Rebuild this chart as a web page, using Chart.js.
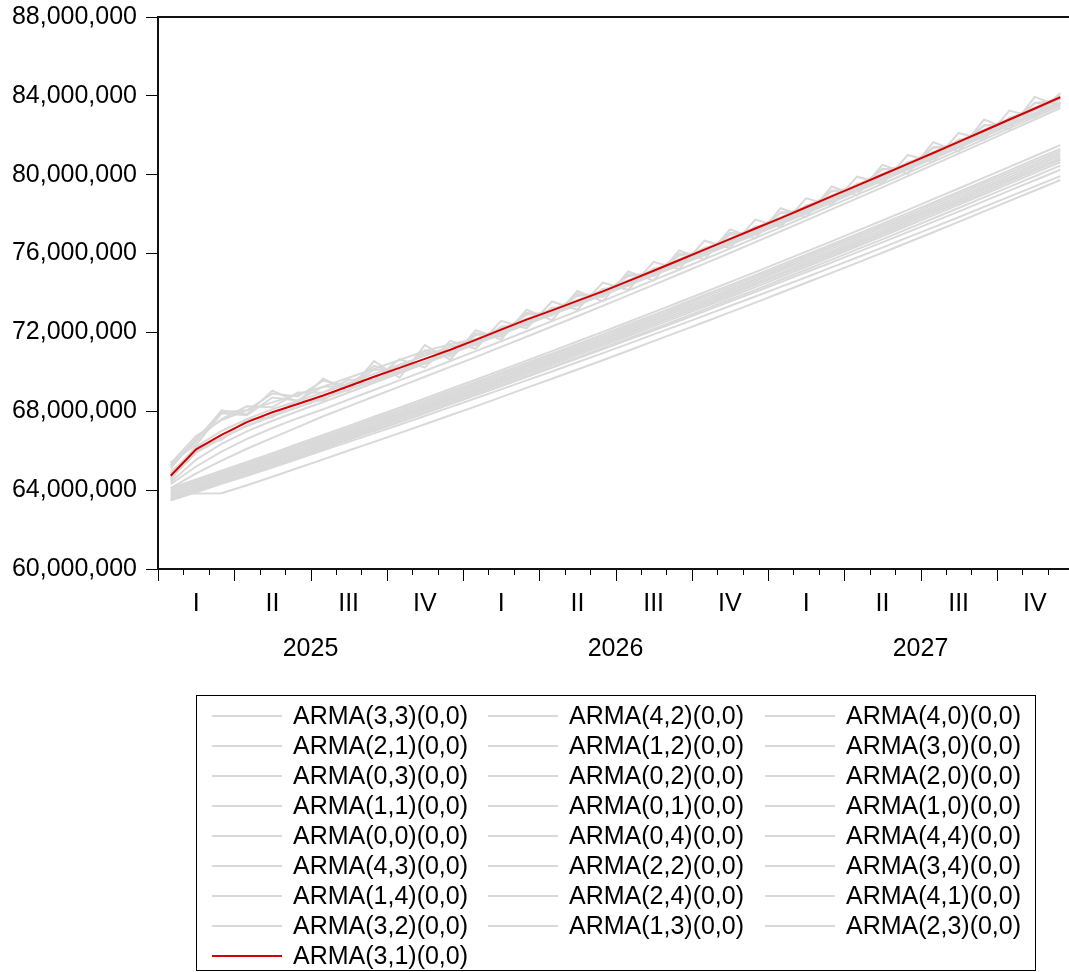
<!DOCTYPE html>
<html>
<head>
<meta charset="utf-8">
<title>ARMA forecasts 2025-2027</title>
<script src="https://cdn.jsdelivr.net/npm/chart.js@4.4.1/dist/chart.umd.min.js"></script>
<style>
  html, body { margin: 0; padding: 0; background: #fff; overflow: hidden; }
  #wrap { width: 1069px; height: 972px; overflow: hidden; }
  canvas { display: block; }
</style>
</head>
<body>
<div id="wrap"><canvas id="chart" width="1080" height="972"></canvas></div>
<script>
// Monthly forecast horizon
const monthLabels = [
  '2025M01','2025M02','2025M03','2025M04','2025M05','2025M06','2025M07','2025M08','2025M09','2025M10','2025M11','2025M12',
  '2026M01','2026M02','2026M03','2026M04','2026M05','2026M06','2026M07','2026M08','2026M09','2026M10','2026M11','2026M12',
  '2027M01','2027M02','2027M03','2027M04','2027M05','2027M06','2027M07','2027M08','2027M09','2027M10','2027M11','2027M12'
];
const quarterLabels = ['I', 'II', 'III', 'IV'];
const yearLabels = ['2025', '2026', '2027'];
const yTickValues = [60, 64, 68, 72, 76, 80, 84, 88]; // millions

// Forecast paths, in millions
const arma33 = [65.28, 66.47, 68.05, 67.85, 69.05, 68.47, 69.65, 69.02, 70.55, 69.70, 71.36, 70.62, 72.12, 71.64, 73.15, 72.62, 74.10, 73.58, 75.10, 74.63, 76.16, 75.70, 77.23, 76.77, 78.30, 77.85, 79.40, 78.95, 80.50, 80.05, 81.65, 81.17, 82.80, 82.30, 83.95, 83.45];
const arma42 = [65.10, 66.60, 67.60, 68.25, 68.20, 68.95, 68.95, 69.60, 69.60, 70.65, 70.21, 71.57, 71.17, 72.59, 72.20, 73.57, 73.15, 74.53, 74.15, 75.58, 75.21, 76.65, 76.28, 77.72, 77.35, 78.80, 78.45, 79.90, 79.55, 81.00, 80.65, 82.12, 81.78, 83.25, 82.91, 84.15];
const arma40 = [65.40, 66.30, 67.90, 67.80, 68.70, 68.55, 69.25, 69.30, 70.10, 70.15, 70.95, 71.05, 71.85, 72.05, 72.90, 73.05, 73.85, 74.00, 74.85, 75.05, 75.90, 76.10, 76.95, 77.15, 78.05, 78.25, 79.15, 79.35, 80.25, 80.45, 81.35, 81.57, 82.48, 82.70, 83.61, 83.83];
const arma21 = [64.10, 64.54, 64.99, 65.43, 65.88, 66.34, 66.80, 67.26, 67.72, 68.18, 68.65, 69.13, 69.60, 70.08, 70.57, 71.05, 71.54, 72.03, 72.53, 73.03, 73.53, 74.04, 74.55, 75.06, 75.58, 76.10, 76.62, 77.15, 77.68, 78.22, 78.76, 79.30, 79.85, 80.40, 80.95, 81.50];
const arma12 = [64.02, 64.46, 64.90, 65.34, 65.79, 66.24, 66.70, 67.16, 67.62, 68.07, 68.54, 69.02, 69.48, 69.96, 70.45, 70.92, 71.41, 71.90, 72.40, 72.89, 73.39, 73.90, 74.40, 74.91, 75.43, 75.94, 76.46, 76.99, 77.52, 78.05, 78.59, 79.13, 79.67, 80.22, 80.77, 81.31];
const arma30 = [65.35, 66.75, 67.55, 68.05, 68.45, 68.85, 69.25, 69.70, 70.15, 70.60, 71.05, 71.40, 71.67, 72.19, 72.70, 73.17, 73.65, 74.13, 74.65, 75.18, 75.71, 76.25, 76.78, 77.32, 77.85, 78.40, 78.95, 79.50, 80.05, 80.60, 81.15, 81.72, 82.28, 82.85, 83.41, 83.98];
const arma03 = [63.94, 64.38, 64.82, 65.26, 65.70, 66.16, 66.62, 67.07, 67.53, 67.98, 68.45, 68.93, 69.39, 69.87, 70.35, 70.83, 71.32, 71.80, 72.30, 72.79, 73.29, 73.80, 74.30, 74.81, 75.32, 75.84, 76.36, 76.88, 77.41, 77.94, 78.48, 79.02, 79.56, 80.11, 80.65, 81.20];
const arma02 = [63.86, 64.29, 64.74, 65.17, 65.62, 66.07, 66.53, 66.98, 67.44, 67.89, 68.36, 68.83, 69.30, 69.77, 70.26, 70.73, 71.22, 71.70, 72.20, 72.69, 73.19, 73.69, 74.20, 74.70, 75.22, 75.73, 76.25, 76.77, 77.30, 77.83, 78.37, 78.90, 79.45, 79.99, 80.54, 81.08];
const arma20 = [63.78, 64.21, 64.66, 65.09, 65.54, 65.99, 66.44, 66.90, 67.35, 67.81, 68.27, 68.74, 69.21, 69.68, 70.17, 70.64, 71.12, 71.61, 72.10, 72.60, 73.09, 73.59, 74.10, 74.60, 75.12, 75.63, 76.14, 76.67, 77.19, 77.73, 78.26, 78.79, 79.34, 79.88, 80.43, 80.97];
const arma11 = [63.70, 64.13, 64.58, 65.01, 65.45, 65.90, 66.36, 66.81, 67.26, 67.72, 68.18, 68.65, 69.12, 69.59, 70.07, 70.54, 71.03, 71.51, 72.00, 72.50, 72.99, 73.49, 74.00, 74.50, 75.01, 75.52, 76.04, 76.56, 77.08, 77.62, 78.15, 78.68, 79.23, 79.77, 80.31, 80.85];
const arma01 = [63.63, 64.06, 64.50, 64.94, 65.38, 65.83, 66.28, 66.73, 67.19, 67.64, 68.10, 68.57, 69.03, 69.51, 69.99, 70.46, 70.94, 71.42, 71.92, 72.41, 72.90, 73.40, 73.90, 74.41, 74.92, 75.43, 75.94, 76.46, 76.99, 77.52, 78.05, 78.58, 79.12, 79.67, 80.21, 80.75];
const arma10 = [63.55, 63.98, 64.42, 64.85, 65.29, 65.74, 66.20, 66.65, 67.10, 67.55, 68.01, 68.48, 68.94, 69.41, 69.89, 70.36, 70.85, 71.33, 71.82, 72.31, 72.80, 73.30, 73.80, 74.30, 74.81, 75.32, 75.84, 76.36, 76.88, 77.41, 77.94, 78.47, 79.01, 79.55, 80.09, 80.63];
const arma00 = [63.85, 63.83, 63.84, 64.25, 64.68, 65.12, 65.56, 66.01, 66.45, 66.89, 67.34, 67.80, 68.25, 68.72, 69.19, 69.65, 70.12, 70.59, 71.07, 71.56, 72.04, 72.53, 73.02, 73.51, 74.01, 74.52, 75.02, 75.53, 76.04, 76.56, 77.08, 77.61, 78.14, 78.67, 79.20, 79.73];
const arma04 = [63.48, 63.91, 64.35, 64.77, 65.21, 65.66, 66.11, 66.56, 67.00, 67.45, 67.91, 68.38, 68.84, 69.30, 69.78, 70.25, 70.73, 71.21, 71.69, 72.18, 72.67, 73.17, 73.67, 74.16, 74.67, 75.18, 75.69, 76.21, 76.72, 77.25, 77.78, 78.31, 78.85, 79.38, 79.92, 80.46];
const arma44 = [64.95, 65.95, 66.65, 67.25, 67.75, 68.20, 68.65, 69.10, 69.56, 70.02, 70.48, 70.95, 71.43, 71.92, 72.41, 72.90, 73.39, 73.89, 74.39, 74.90, 75.41, 75.93, 76.45, 76.97, 77.50, 78.03, 78.59, 79.15, 79.70, 80.26, 80.82, 81.37, 81.93, 82.49, 83.04, 83.60];
const arma43 = [64.30, 65.20, 65.95, 66.60, 67.15, 67.65, 68.10, 68.60, 69.08, 69.57, 70.05, 70.55, 71.05, 71.55, 72.06, 72.57, 73.08, 73.60, 74.12, 74.65, 75.18, 75.71, 76.25, 76.79, 77.33, 77.88, 78.43, 78.98, 79.54, 80.10, 80.66, 81.22, 81.79, 82.36, 82.93, 83.50];
const arma22 = [65.20, 66.60, 67.95, 68.05, 68.90, 68.75, 69.55, 69.30, 70.30, 69.95, 71.10, 70.80, 71.95, 71.80, 73.00, 72.85, 73.95, 73.80, 74.95, 74.85, 76.00, 75.90, 77.05, 76.95, 78.10, 78.05, 79.20, 79.15, 80.30, 80.25, 81.40, 81.38, 82.52, 82.50, 83.65, 83.62];
const arma34 = [64.10, 64.85, 65.50, 66.10, 66.65, 67.20, 67.75, 68.25, 68.75, 69.25, 69.75, 70.25, 70.75, 71.27, 71.78, 72.30, 72.82, 73.35, 73.88, 74.41, 74.95, 75.49, 76.03, 76.58, 77.13, 77.68, 78.24, 78.80, 79.36, 79.93, 80.50, 81.07, 81.64, 82.22, 82.80, 83.38];
const arma14 = [63.55, 63.97, 64.40, 64.82, 65.25, 65.69, 66.13, 66.57, 67.01, 67.45, 67.90, 68.36, 68.81, 69.27, 69.74, 70.20, 70.67, 71.14, 71.62, 72.10, 72.58, 73.07, 73.56, 74.05, 74.55, 75.05, 75.55, 76.06, 76.57, 77.09, 77.61, 78.13, 78.66, 79.19, 79.72, 80.25];
const arma24 = [64.50, 66.20, 66.55, 67.60, 67.70, 68.55, 68.55, 69.45, 69.45, 70.35, 70.40, 71.30, 71.35, 72.30, 72.35, 73.25, 73.35, 74.20, 74.35, 75.25, 75.40, 76.30, 76.45, 77.38, 77.52, 78.45, 78.62, 79.55, 79.72, 80.65, 80.82, 81.77, 81.95, 82.90, 83.08, 84.02];
const arma41 = [64.85, 66.20, 67.00, 67.60, 68.10, 68.52, 68.95, 69.42, 69.90, 70.36, 70.82, 71.29, 71.52, 72.04, 72.55, 73.02, 73.50, 73.98, 74.50, 75.03, 75.56, 76.10, 76.63, 77.17, 77.70, 78.25, 78.80, 79.35, 79.90, 80.45, 81.00, 81.57, 82.13, 82.70, 83.26, 83.83];
const arma32 = [64.60, 65.90, 66.62, 67.28, 67.80, 68.22, 68.66, 69.12, 69.60, 70.05, 70.51, 70.97, 71.47, 71.98, 72.49, 72.96, 73.44, 73.92, 74.44, 74.97, 75.50, 76.03, 76.56, 77.10, 77.63, 78.17, 78.72, 79.26, 79.81, 80.36, 80.90, 81.46, 82.02, 82.58, 83.13, 83.69];
const arma13 = [63.48, 63.89, 64.32, 64.73, 65.15, 65.58, 66.02, 66.45, 66.88, 67.32, 67.76, 68.21, 68.66, 69.11, 69.57, 70.02, 70.49, 70.95, 71.42, 71.90, 72.37, 72.85, 73.34, 73.82, 74.31, 74.80, 75.30, 75.80, 76.30, 76.82, 77.33, 77.84, 78.37, 78.89, 79.41, 79.93];
const arma23 = [64.40, 65.55, 66.35, 66.98, 67.52, 68.00, 68.47, 68.95, 69.45, 69.93, 70.42, 70.91, 71.41, 71.91, 72.42, 72.92, 73.42, 73.92, 74.43, 74.95, 75.47, 75.99, 76.52, 77.05, 77.58, 78.12, 78.66, 79.20, 79.75, 80.30, 80.85, 81.40, 81.96, 82.52, 83.08, 83.64];
const arma31 = [64.73, 66.07, 66.80, 67.45, 67.95, 68.37, 68.80, 69.27, 69.75, 70.20, 70.66, 71.12, 71.62, 72.14, 72.65, 73.12, 73.60, 74.08, 74.60, 75.13, 75.66, 76.20, 76.73, 77.27, 77.80, 78.35, 78.90, 79.45, 80.00, 80.55, 81.10, 81.67, 82.23, 82.80, 83.36, 83.93];

// Legend order (row by row, three columns)
const series = [
  ['ARMA(3,3)(0,0)', arma33], ['ARMA(4,2)(0,0)', arma42], ['ARMA(4,0)(0,0)', arma40],
  ['ARMA(2,1)(0,0)', arma21], ['ARMA(1,2)(0,0)', arma12], ['ARMA(3,0)(0,0)', arma30],
  ['ARMA(0,3)(0,0)', arma03], ['ARMA(0,2)(0,0)', arma02], ['ARMA(2,0)(0,0)', arma20],
  ['ARMA(1,1)(0,0)', arma11], ['ARMA(0,1)(0,0)', arma01], ['ARMA(1,0)(0,0)', arma10],
  ['ARMA(0,0)(0,0)', arma00], ['ARMA(0,4)(0,0)', arma04], ['ARMA(4,4)(0,0)', arma44],
  ['ARMA(4,3)(0,0)', arma43], ['ARMA(2,2)(0,0)', arma22], ['ARMA(3,4)(0,0)', arma34],
  ['ARMA(1,4)(0,0)', arma14], ['ARMA(2,4)(0,0)', arma24], ['ARMA(4,1)(0,0)', arma41],
  ['ARMA(3,2)(0,0)', arma32], ['ARMA(1,3)(0,0)', arma13], ['ARMA(2,3)(0,0)', arma23],
  ['ARMA(3,1)(0,0)', arma31]
];
const highlighted = 'ARMA(3,1)(0,0)';

const FONT = "'Liberation Sans', Arial, Helvetica, sans-serif";
const FONT_SIZE = 25;
const GREY = '#d9d9d9';
const RED = '#d20000';
const CANVAS_W = 1080, CANVAS_H = 972;
const PLOT_LEFT = 158, PLOT_TOP = 17, PLOT_RIGHT = 1073, PLOT_BOTTOM = 569;

const datasets = series.map(([label, values]) => {
  const isMain = label === highlighted;
  return {
    label,
    data: monthLabels.map((m, i) => ({ x: i + 0.5, y: values[i] })),
    borderColor: isMain ? RED : GREY,
    borderWidth: 2,
    pointRadius: 0,
    tension: 0,
    fill: false,
    order: isMain ? 0 : 1
  };
});

// Frame, monthly/quarterly ticks, period labels and boxed legend
const decor = {
  id: 'decor',
  afterDraw(chart) {
    const { ctx, chartArea: a, scales: { x } } = chart;
    ctx.save();

    // month ticks (long at quarter boundaries)
    ctx.strokeStyle = '#000';
    ctx.lineWidth = 1;
    for (let k = 0; k <= monthLabels.length; k++) {
      const px = Math.round(x.getPixelForValue(k)) + 0.5;
      const len = k % 3 === 0 ? 12 : 6;
      ctx.beginPath();
      ctx.moveTo(px, a.bottom);
      ctx.lineTo(px, a.bottom + len);
      ctx.stroke();
    }

    // plot frame
    ctx.strokeStyle = '#111';
    ctx.lineWidth = 2;
    ctx.beginPath();
    ctx.moveTo(a.right, a.top);
    ctx.lineTo(a.left, a.top);
    ctx.lineTo(a.left, a.bottom);
    ctx.lineTo(a.right, a.bottom);
    ctx.stroke();

    // quarter and year labels
    ctx.fillStyle = '#000';
    ctx.font = FONT_SIZE + 'px ' + FONT;
    ctx.textAlign = 'center';
    ctx.textBaseline = 'middle';
    const nQuarters = monthLabels.length / 3;
    for (let q = 0; q < nQuarters; q++) {
      ctx.fillText(quarterLabels[q % 4], x.getPixelForValue(q * 3 + 1.5), 604);
    }
    yearLabels.forEach((yr, j) => {
      ctx.fillText(yr, x.getPixelForValue(j * 12 + 6), 649);
    });

    // legend box
    const boxW = 839;
    const boxL = Math.round((a.left + a.right) / 2 - boxW / 2) + 0.5;
    const boxT = 695.5, boxB = 970.5;
    ctx.strokeStyle = '#000';
    ctx.lineWidth = 1;
    ctx.strokeRect(boxL, boxT, boxW, boxB - boxT);

    ctx.textAlign = 'left';
    chart.data.datasets.forEach((ds, idx) => {
      const row = Math.floor(idx / 3), col = idx % 3;
      const cy = 716 + row * 30;
      const lx = Math.round(boxL + 15 + col * 276.5);
      ctx.strokeStyle = ds.borderColor;
      ctx.lineWidth = 2;
      ctx.beginPath();
      ctx.moveTo(lx, cy);
      ctx.lineTo(lx + 70, cy);
      ctx.stroke();
      ctx.fillStyle = '#000';
      ctx.fillText(ds.label, lx + 81, cy + 1);
    });

    ctx.restore();
  }
};

new Chart(document.getElementById('chart'), {
  type: 'line',
  data: { datasets },
  options: {
    responsive: false,
    animation: false,
    devicePixelRatio: 1,
    layout: {
      padding: { left: 0, top: PLOT_TOP, right: CANVAS_W - PLOT_RIGHT, bottom: CANVAS_H - PLOT_BOTTOM }
    },
    plugins: { legend: { display: false }, tooltip: { enabled: false } },
    scales: {
      x: { type: 'linear', min: 0, max: monthLabels.length, display: false },
      y: {
        min: yTickValues[0],
        max: yTickValues[yTickValues.length - 1],
        afterBuildTicks(s) { s.ticks = yTickValues.map(v => ({ value: v })); },
        afterFit(s) {
          s.width = PLOT_LEFT;
          s.paddingTop = 0;
          s.paddingBottom = 0;
        },
        ticks: {
          padding: 9,
          color: '#000',
          font: { family: FONT, size: FONT_SIZE },
          callback: v => (v * 1e6).toLocaleString('en-US')
        },
        grid: { drawOnChartArea: false, drawTicks: true, tickLength: 12, tickColor: '#000', tickWidth: 1 },
        border: { display: false }
      }
    }
  },
  plugins: [decor]
});
</script>
</body>
</html>
